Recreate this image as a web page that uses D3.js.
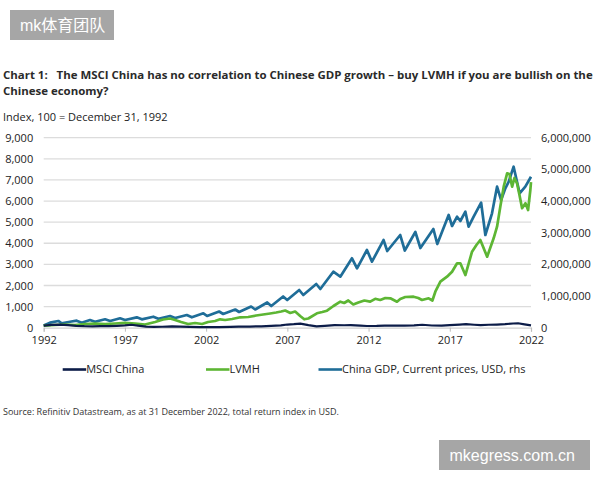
<!DOCTYPE html>
<html>
<head>
<meta charset="utf-8">
<script src="https://cdn.jsdelivr.net/npm/d3@7"></script>
<style>
  body { margin: 0; background: #fff; }
  svg { font-family: "Open Sans", "Noto Sans", sans-serif; }
</style>
</head>
<body>
<svg id="chart"></svg>
<script>
// ---- data (decimal years) ----
const msciYears = [1992.0, 1992.5, 1993.0, 1993.5, 1994.0, 1994.5, 1995.0, 1995.5, 1996.0, 1996.5,
  1997.0, 1997.4, 1997.8, 1998.3, 1998.8, 1999.3, 1999.9, 2000.4, 2001.0, 2001.6, 2002.2, 2002.8,
  2003.5, 2004.0, 2004.7, 2005.4, 2006.0, 2006.6, 2007.0, 2007.4, 2007.8, 2008.3, 2008.8, 2009.3,
  2009.9, 2010.5, 2010.9, 2011.5, 2011.9, 2012.5, 2013.0, 2013.6, 2014.2, 2014.8, 2015.3, 2015.9,
  2016.5, 2017.0, 2017.6, 2018.0, 2018.5, 2018.9, 2019.4, 2019.9, 2020.4, 2020.9, 2021.2, 2021.6, 2022.0];
const msciValues = [100, 130, 150, 120, 90, 70, 65, 70, 75, 90,
  110, 140, 100, 55, 40, 45, 60, 50, 40, 30, 30, 28,
  40, 55, 55, 65, 85, 110, 150, 165, 190, 120, 60, 90,
  120, 115, 125, 100, 80, 85, 100, 95, 100, 110, 140, 105,
  100, 120, 150, 165, 140, 120, 140, 150, 165, 200, 210, 160, 110];

const lvmhYears = [1992.0, 1992.7, 1993.31, 1993.93, 1994.54, 1995.16, 1995.78, 1996.39, 1997.01, 1997.63,
  1998.24, 1998.86, 1999.35, 1999.78, 2000.09, 2000.46, 2000.89, 2001.32, 2001.75, 2002.12,
  2002.55, 2002.86, 2003.17, 2003.6, 2004.1, 2004.59, 2005.08, 2005.51, 2005.94, 2006.31,
  2006.62, 2006.87, 2007.18, 2007.48, 2007.79, 2008.04, 2008.29, 2008.82, 2009.15, 2009.44,
  2009.84, 2010.26, 2010.5, 2010.75, 2011.06, 2011.37, 2011.74, 2012.1, 2012.41, 2012.72,
  2013.03, 2013.34, 2013.75, 2013.95, 2014.26, 2014.77, 2015.06, 2015.29, 2015.7, 2015.93,
  2016.11, 2016.42, 2016.83, 2017.14, 2017.45, 2017.65, 2017.96, 2018.37, 2018.64, 2018.88,
  2019.3, 2019.7, 2019.91, 2020.11, 2020.32, 2020.53, 2020.67, 2020.84, 2020.98, 2021.14,
  2021.29, 2021.45, 2021.66, 2021.82, 2021.96, 2022.0];
const lvmhValues = [100, 128, 152, 128, 175, 199, 175, 199, 232, 199,
  152, 270, 388, 436, 365, 270, 175, 223, 175, 270,
  317, 398, 365, 412, 493, 507, 578, 625, 673, 720,
  767, 815, 696, 767, 554, 398, 436, 682, 744, 805,
  1028, 1232, 1170, 1289, 1099, 1194, 1289, 1232, 1369, 1312,
  1407, 1393, 1232, 1360, 1454, 1468, 1407, 1312, 1393, 1289,
  1705, 2179, 2416, 2653, 3051, 3051, 2496, 3600, 3918, 4154,
  3363, 4235, 4784, 5732, 6679, 7314, 7281, 6679, 7091, 6840,
  6286, 5656, 5893, 5575, 6523, 6900];

const gdpYears = [1992.0, 1992.39, 1992.9, 1993.11, 1993.62, 1994.03, 1994.34, 1994.85, 1995.16, 1995.78,
  1996.09, 1996.7, 1997.01, 1997.73, 1998.04, 1998.75, 1999.06, 1999.78, 2000.09, 2000.81,
  2001.12, 2001.83, 2002.06, 2002.8, 2003.05, 2003.79, 2004.03, 2004.77, 2005.02, 2005.76,
  2006.01, 2006.74, 2006.99, 2007.73, 2007.98, 2008.78, 2009.03, 2009.83, 2010.26, 2010.98,
  2011.29, 2011.9, 2012.21, 2012.92, 2013.15, 2013.95, 2014.23, 2014.88, 2015.19, 2015.99,
  2016.23, 2016.93, 2017.14, 2017.45, 2017.65, 2017.96, 2018.16, 2018.47, 2018.93, 2019.19,
  2019.6, 2019.91, 2020.16, 2020.42, 2020.63, 2020.93, 2021.3, 2021.65, 2022.0];
const gdpValues = [70000, 158000, 212000, 139000, 189000, 221000, 158000, 243000, 189000, 265000,
  212000, 297000, 243000, 328000, 265000, 347000, 284000, 369000, 306000, 401000,
  328000, 455000, 369000, 512000, 433000, 575000, 496000, 669000, 575000, 796000,
  685000, 985000, 875000, 1190000, 1033000, 1380000, 1222000, 1768000, 1611000, 2192000,
  1876000, 2454000, 2084000, 2769000, 2422000, 2927000, 2438000, 3022000, 2517000, 3117000,
  2643000, 3559000, 3212000, 3505000, 3369000, 3663000, 3189000, 3505000, 3947000, 2927000,
  3613000, 4453000, 4033000, 4402000, 4611000, 5084000, 4244000, 4453000, 4768000];

const yearTicks = [1992, 1997, 2002, 2007, 2012, 2017, 2022];
const leftTicks = [0, 1000, 2000, 3000, 4000, 5000, 6000, 7000, 8000, 9000];
const rightTicks = [0, 1000000, 2000000, 3000000, 4000000, 5000000, 6000000];

const seriesNames = ["MSCI China", "LVMH", "China GDP, Current prices, USD, rhs"];
const seriesColors = ["#0c1c48", "#5db634", "#1f6d98"];

class DualAxisChart {

  constructor(_config) {
    this.config = {
      parentElement: _config.parentElement,
      containerWidth: _config.containerWidth || 600,
      containerHeight: _config.containerHeight || 480,
      margin: _config.margin || { top: 137.7, right: 69, bottom: 152.3, left: 43.7 }
    }
    this.initVis();
  }

  initVis() {
    let vis = this;

    vis.svg = d3.select(vis.config.parentElement)
        .attr("width", vis.config.containerWidth)
        .attr("height", vis.config.containerHeight);

    vis.width = vis.config.containerWidth - vis.config.margin.left - vis.config.margin.right;
    vis.height = vis.config.containerHeight - vis.config.margin.top - vis.config.margin.bottom;

    vis.chart = vis.svg.append('g')
        .attr('transform', `translate(${vis.config.margin.left},${vis.config.margin.top})`);

    vis.xScale = d3.scaleLinear().domain([1992, 2022]).range([0, vis.width]);
    vis.yLeft = d3.scaleLinear().domain([0, 9000]).range([vis.height, 0]);
    vis.yRight = d3.scaleLinear().domain([0, 6000000]).range([vis.height, 0]);

    vis.render();
  }

  render() {
    let vis = this;
    const fmt = d3.format(",");

    // gridlines
    vis.chart.append('g')
      .selectAll('line')
      .data(leftTicks.filter(d => d > 0))
      .join('line')
        .attr('x1', 0).attr('x2', vis.width)
        .attr('y1', d => vis.yLeft(d)).attr('y2', d => vis.yLeft(d))
        .attr('stroke', '#dcdcdc')
        .attr('stroke-width', 1.3);

    // left axis labels
    let yAxisL = d3.axisLeft(vis.yLeft).tickValues(leftTicks).tickFormat(fmt).tickSize(0).tickPadding(10.5);
    vis.chart.append('g').call(yAxisL)
      .call(g => g.select('.domain').remove())
      .selectAll('text')
        .style('font-size', '11px')
        .style('fill', '#222')
        .style('font-family', '"Open Sans", sans-serif');

    // right axis labels
    let yAxisR = d3.axisRight(vis.yRight).tickValues(rightTicks).tickFormat(fmt).tickSize(0).tickPadding(10);
    vis.chart.append('g')
        .attr('transform', `translate(${vis.width},0)`)
        .call(yAxisR)
      .call(g => g.select('.domain').remove())
      .selectAll('text')
        .style('font-size', '11px')
        .style('fill', '#222')
        .style('font-family', '"Open Sans", sans-serif');

    // x axis
    let xAxis = d3.axisBottom(vis.xScale).tickValues(yearTicks).tickFormat(d3.format("d")).tickSize(4).tickPadding(5);
    vis.chart.append('g')
        .attr('transform', `translate(0,${vis.height})`)
        .call(xAxis)
      .call(g => g.select('.domain').attr('stroke', '#cfcfcf').attr('stroke-width', 1.3))
      .call(g => g.selectAll('.tick line').attr('stroke', '#bdbdbd'))
      .selectAll('text')
        .style('font-size', '11px')
        .style('fill', '#222')
        .style('font-family', '"Open Sans", sans-serif');

    const lineL = d3.line()
      .x(d => vis.xScale(d[0]))
      .y(d => vis.yLeft(d[1]))
      .curve(d3.curveLinear);
    const lineR = d3.line()
      .x(d => vis.xScale(d[0]))
      .y(d => vis.yRight(d[1]))
      .curve(d3.curveLinear);

    const gdp = d3.zip(gdpYears, gdpValues);
    const lvmh = d3.zip(lvmhYears, lvmhValues);
    const msci = d3.zip(msciYears, msciValues);

    vis.chart.append('path').datum(gdp)
      .attr('d', lineR).attr('fill', 'none')
      .attr('stroke', seriesColors[2]).attr('stroke-width', 2.7)
      .attr('stroke-linejoin', 'round');

    vis.chart.append('path').datum(lvmh)
      .attr('d', lineL).attr('fill', 'none')
      .attr('stroke', seriesColors[1]).attr('stroke-width', 2.7)
      .attr('stroke-linejoin', 'round');

    vis.chart.append('path').datum(msci)
      .attr('d', lineL).attr('fill', 'none')
      .attr('stroke', seriesColors[0]).attr('stroke-width', 2.2)
      .attr('stroke-linejoin', 'round');

    // legend
    const legendX = [62.7, 206, 318.5];
    let legend = vis.svg.append('g').attr('transform', 'translate(0,369.5)');
    let item = legend.selectAll('g')
      .data(seriesNames)
      .join('g')
        .attr('transform', (d, i) => `translate(${legendX[i]},0)`);
    item.append('line')
        .attr('x1', 0).attr('x2', 23.5)
        .attr('stroke', (d, i) => seriesColors[i])
        .attr('stroke-width', 2.6);
    item.append('text')
        .attr('x', 23.5)
        .attr('dy', '0.35em')
        .style('font-size', '11px')
        .style('fill', '#222')
        .text(d => d);
  }
}

let svg = d3.select('#chart');

// titles
svg.append('text')
    .attr('x', 3).attr('y', 78.5)
    .style('font-size', '11.45px').style('font-weight', 'bold').style('fill', '#2a2a2a')
    .attr('xml:space', 'preserve')
    .text("Chart 1:   The MSCI China has no correlation to Chinese GDP growth – buy LVMH if you are bullish on the");
svg.append('text')
    .attr('x', 3).attr('y', 94.5)
    .style('font-size', '11.45px').style('font-weight', 'bold').style('fill', '#2a2a2a')
    .text("Chinese economy?");
svg.append('text')
    .attr('x', 3).attr('y', 120.5)
    .style('font-size', '11px').style('fill', '#222')
    .text("Index, 100 = December 31, 1992");

let chart = new DualAxisChart({ parentElement: '#chart' });

svg.append('text')
    .attr('x', 3).attr('y', 414.5)
    .style('font-size', '9px').style('fill', '#333')
    .text("Source: Refinitiv Datastream, as at 31 December 2022, total return index in USD.");

// watermarks
svg.append('rect').attr('x', 10).attr('y', 10).attr('width', 104).attr('height', 30).attr('fill', '#a6a6a6');
svg.append('text')
    .attr('x', 20).attr('y', 25).attr('dy', '0.36em')
    .style('font-family', '"Liberation Sans", "Noto Sans CJK SC", sans-serif')
    .style('font-size', '16px').style('fill', '#fff')
    .text("mk体育团队");
svg.append('rect').attr('x', 439).attr('y', 440).attr('width', 151).attr('height', 30).attr('fill', '#a6a6a6');
svg.append('text')
    .attr('x', 449.5).attr('y', 455).attr('dy', '0.36em')
    .style('font-family', '"Liberation Sans", sans-serif')
    .style('font-size', '16px').style('fill', '#fff')
    .text("mkegress.com.cn");
</script>
</body>
</html>
